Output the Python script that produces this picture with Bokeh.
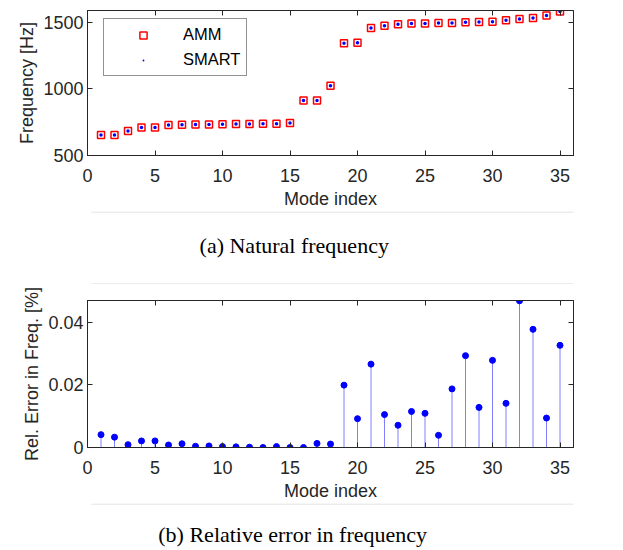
from bokeh.plotting import figure
from bokeh.layouts import column
from bokeh.models import Range1d, FixedTicker, LinearAxis, Legend, CustomLabelingPolicy
from bokeh.core.properties import value
from bokeh.embed import file_html
from bokeh.resources import INLINE

# ---------------- data ----------------
modes = list(range(1, 36))
freq_amm = [654, 654, 684, 711, 711, 728, 730, 732, 733, 735, 736, 737, 738, 738, 743,
            912, 913, 1024, 1343, 1346, 1456, 1473, 1485, 1490, 1490, 1495, 1495, 1500,
            1502, 1503, 1515, 1525, 1532, 1551, 1581]
freq_smart = [654, 654, 684, 711, 711, 728, 730, 732, 733, 735, 736, 737, 738, 738, 743,
              912, 913, 1024, 1343, 1346, 1456, 1473, 1485, 1490, 1490, 1495, 1495, 1500,
              1502, 1503, 1515, 1525, 1532, 1551, 1581]
rel_err = [0.0041, 0.0033, 0.0009, 0.0021, 0.0021, 0.0008, 0.0012, 0.0004, 0.0005, 0.0003,
           0.0002, 0.0001, 0.0000, 0.0003, 0.0000, 0.0000, 0.0013, 0.0011, 0.0199, 0.0092,
           0.0266, 0.0105, 0.0071, 0.0115, 0.0109, 0.0039, 0.0187, 0.0293, 0.0128, 0.0278,
           0.0141, 0.0468, 0.0377, 0.0094, 0.0326]
x_ticks = [0, 5, 10, 15, 20, 25, 30, 35]
freq_ticks = [500, 1000, 1500]
err_ticks = [0, 0.02, 0.04]
err_tick_labels = {0: "0", 0.02: "0.02", 0.04: "0.04"}
caption_a = "(a) Natural frequency"
caption_b = "(b) Relative error in frequency"

W = 623
DARK = "#262626"
SANS = "Liberation Sans"


def style_axes(p, xticks, yticks, ylabel):
    for ax in p.xaxis:
        ax.ticker = FixedTicker(ticks=xticks)
        ax.axis_label = "Mode index"
    for ax in p.yaxis:
        ax.ticker = FixedTicker(ticks=yticks)
        ax.axis_label = ylabel
    for ax in list(p.xaxis) + list(p.yaxis):
        ax.axis_line_color = DARK
        ax.major_tick_line_color = DARK
        ax.major_tick_in = 5
        ax.major_tick_out = 0
        ax.minor_tick_line_color = None
        ax.major_label_text_font = SANS
        ax.major_label_text_font_size = "18px"
        ax.major_label_text_color = DARK
        ax.axis_label_text_font = SANS
        ax.axis_label_text_font_size = "18px"
        ax.axis_label_text_font_style = "normal"
        ax.axis_label_text_color = DARK
    p.xaxis.major_label_standoff = 13
    p.xaxis.axis_label_standoff = 4
    p.yaxis.major_label_standoff = 4
    p.yaxis.axis_label_standoff = 3
    # mirrored tick-only axes (box on)
    hide_all = CustomLabelingPolicy(code="for (const i of indices) { indices.unset(i) }; return indices")
    top = LinearAxis(ticker=FixedTicker(ticks=xticks))
    right = LinearAxis(ticker=FixedTicker(ticks=yticks))
    for ax in (top, right):
        ax.axis_line_color = DARK
        ax.major_tick_line_color = DARK
        ax.major_tick_in = 5
        ax.major_tick_out = 0
        ax.minor_tick_line_color = None
        ax.major_label_text_font_size = "0px"
        ax.major_label_policy = hide_all
        ax.major_label_standoff = 0
        ax.axis_label = None
    p.add_layout(top, "above")
    p.add_layout(right, "right")
    p.xgrid.visible = False
    p.ygrid.visible = False
    p.outline_line_color = DARK
    p.outline_line_width = 1


# ---------------- top plot ----------------
p1 = figure(width=W, height=211, output_backend="svg", toolbar_location=None,
            x_range=Range1d(0, 36), y_range=Range1d(500, 1588),
            min_border_left=87, min_border_right=50, min_border_top=10, min_border_bottom=53)
style_axes(p1, x_ticks, freq_ticks, "Frequency [Hz]")
r_amm = p1.scatter(modes, freq_amm, marker="square", size=7, fill_color=None,
                   line_color="#ff0000", line_width=1.5)
r_smart = p1.scatter(modes, freq_smart, marker="dot", size=14, line_color="#0000ff",
                     fill_color="#0000ff")
leg = Legend(items=[("AMM", [r_amm]), ("SMART", [r_smart])], location=(16, 79),
             margin=0, padding=6, spacing=6, glyph_width=66, glyph_height=18,
             label_height=18, label_standoff=7, label_text_font=SANS,
             label_text_font_size="16.5px", label_text_color="black",
             border_line_color=DARK, border_line_width=1,
             background_fill_color="white", background_fill_alpha=1)
p1.add_layout(leg, "center")

# ---------------- caption a ----------------
cap_a = figure(width=W, height=73, output_backend="svg", toolbar_location=None,
               x_range=Range1d(0, W), y_range=Range1d(73, 0),
               x_axis_type=None, y_axis_type=None,
               min_border_left=0, min_border_right=0, min_border_top=0, min_border_bottom=0)
cap_a.outline_line_color = None
cap_a.xgrid.visible = False
cap_a.ygrid.visible = False
cap_a.segment(x0=[5, 5], y0=[0.5, 72.5], x1=[W, W], y1=[0.5, 72.5], line_color="#d9d9d9", line_width=1)
cap_a.text(x=[265], y=[34], text=[caption_a], text_font=value("Liberation Serif"),
           text_font_size="22px", text_align="center", text_baseline="alphabetic",
           text_color="black")

# ---------------- bottom plot ----------------
p2 = figure(width=W, height=219, output_backend="svg", toolbar_location=None,
            x_range=Range1d(0, 36), y_range=Range1d(0, 0.0469),
            min_border_left=87, min_border_right=50, min_border_top=16, min_border_bottom=55)
style_axes(p2, x_ticks, err_ticks, "Rel. Error in Freq. [%]")
p2.yaxis[0].major_label_overrides = err_tick_labels
p2.segment(x0=modes, y0=[0] * len(modes), x1=modes, y1=rel_err, line_color="#8080ff", line_width=1)
p2.scatter(modes, rel_err, marker="circle", size=6, line_color="#0000ff", fill_color="#0000ff")

# ---------------- caption b ----------------
cap_b = figure(width=W, height=47, output_backend="svg", toolbar_location=None,
               x_range=Range1d(0, W), y_range=Range1d(47, 0),
               x_axis_type=None, y_axis_type=None,
               min_border_left=0, min_border_right=0, min_border_top=0, min_border_bottom=0)
cap_b.outline_line_color = None
cap_b.xgrid.visible = False
cap_b.ygrid.visible = False
cap_b.segment(x0=[5], y0=[0.5], x1=[W], y1=[0.5], line_color="#d9d9d9", line_width=1)
cap_b.text(x=[263], y=[31], text=[caption_b], text_font=value("Liberation Serif"),
           text_font_size="22px", text_align="center", text_baseline="alphabetic",
           text_color="black")

layout = column(p1, cap_a, p2, cap_b, spacing=0)
open("out.html", "w").write(file_html(layout, INLINE))
